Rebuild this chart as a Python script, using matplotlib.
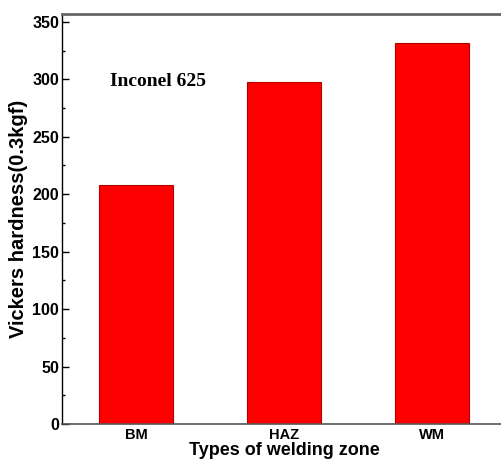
import numpy as np
import matplotlib
matplotlib.use("Agg")
import matplotlib.pyplot as plt
from matplotlib.ticker import MultipleLocator

# Hardness per welding zone
zones = ["BM", "HAZ", "WM"]
hardness = [208, 298, 332]

fig = plt.figure(figsize=(5.02, 4.63), dpi=100)
ax = fig.add_axes([0.1235, 0.0842, 0.884, 0.886])

x = np.arange(len(zones))
ax.bar(x, hardness, width=0.5, color="#ff0000", edgecolor="#b00000", linewidth=0.8)

ax.set_xlim(-0.5, 2.5)
ax.set_ylim(0, 357)
ax.set_xticks(x)
ax.set_xticklabels(zones, fontsize=10.5, fontweight="bold", family="Liberation Sans")
ax.yaxis.set_major_locator(MultipleLocator(50))
ax.yaxis.set_minor_locator(MultipleLocator(25))
for lbl in ax.get_yticklabels():
    lbl.set_fontsize(11.5)
    lbl.set_fontweight("bold")
    lbl.set_family("Liberation Sans")

ax.tick_params(axis="y", which="major", direction="in", length=5, width=1, pad=2)
ax.tick_params(axis="y", which="minor", direction="in", length=2.5, width=1)
ax.tick_params(axis="x", length=0, pad=3)

ax.spines["left"].set_linewidth(1.0)
ax.spines["bottom"].set_color("#555555")
ax.spines["bottom"].set_linewidth(1.2)
ax.spines["top"].set_color("#666666")
ax.spines["top"].set_linewidth(2.0)

ax.set_ylabel("Vickers hardness(0.3kgf)", fontsize=14.5, fontweight="bold",
              family="Liberation Sans", labelpad=3)
ax.set_xlabel("Types of welding zone", fontsize=13, fontweight="bold",
              family="Liberation Sans", labelpad=0)

ax.text(110 / 502, 1 - 82 / 463, "Inconel 625", transform=fig.transFigure,
        fontsize=14, fontweight="bold", family="Liberation Serif", va="center")

fig.savefig("out.png", dpi=100)
